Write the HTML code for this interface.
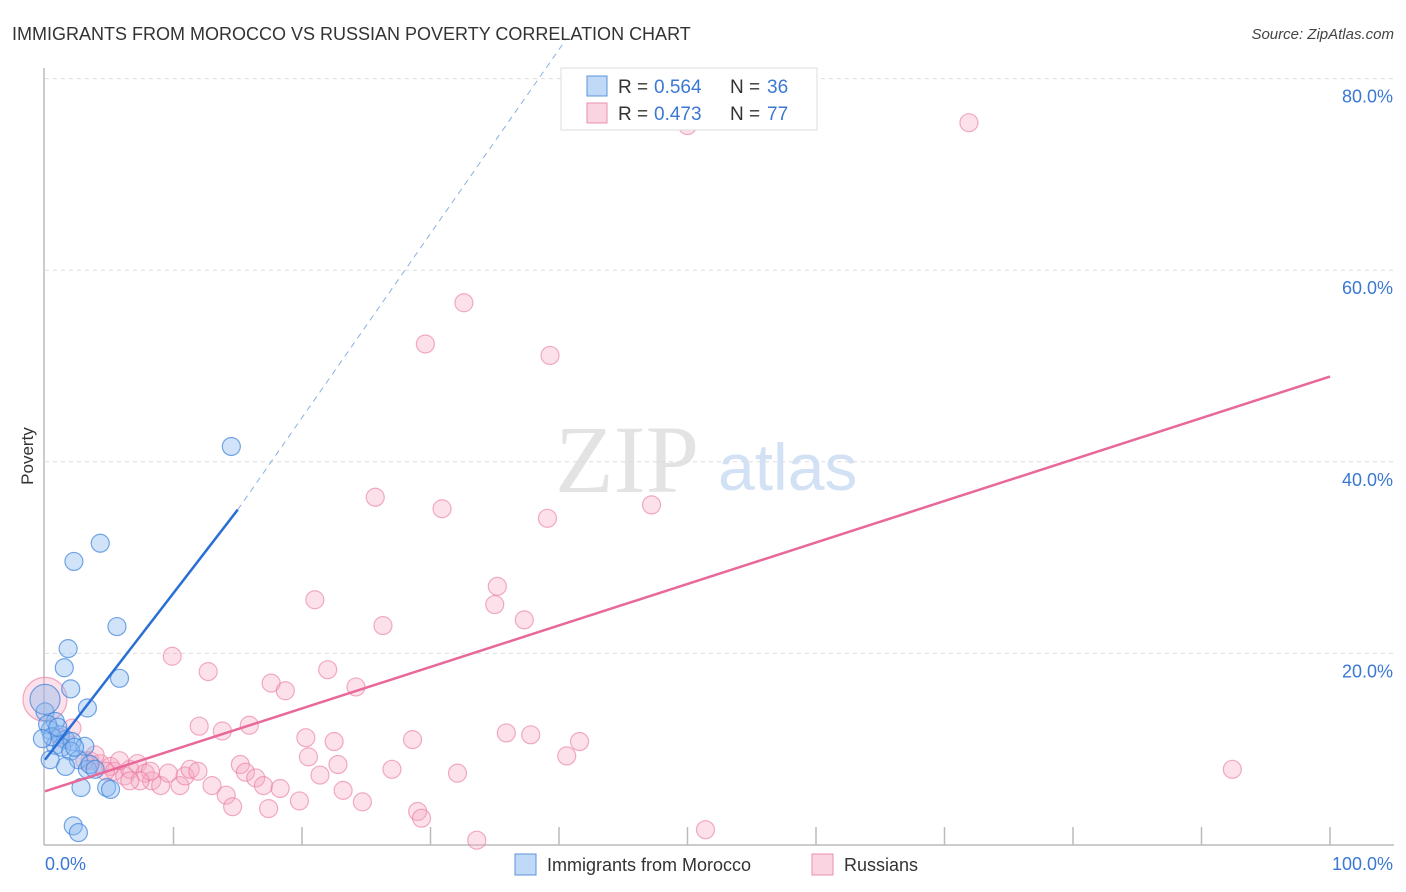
<!DOCTYPE html>
<html><head><meta charset="utf-8"><style>
body{margin:0;background:#fff;font-family:"Liberation Sans",sans-serif}
#c{position:absolute;left:0;top:0}
</style></head><body>
<svg id="c" width="1406" height="892"></svg>
<script>
const blueX=[14.5,4.3,2.25,5.6,1.8,1.5,2,5.8,3.3,0,0.8,0.4,1.2,1.6,0.8,2.1,3.1,1.3,2,2.6,1.6,3.3,2.8,4.8,5.1,2.2,2.6,0,0.2,0.55,1,2.3,3.5,3.9,-0.2,0.4];
const blueY=[41.6,31.5,29.6,22.8,20.5,18.5,16.3,17.4,14.3,13.9,12.9,12,11.5,11,10.4,10.8,10.3,10.2,9.8,8.9,8.2,7.9,6,6,5.8,2,1.3,15.2,12.6,11.3,12.3,10.2,8.4,7.9,11.1,8.9];
const blueR=[9,9,9,9,9,9,9,9,9,9,9,9,9,9,9,9,9,9,9,9,9,9,9,9,9,9,9,15,9,9,9,9,9,9,9,9];
const pinkX=[71.9,50,32.6,29.6,39.3,25.7,30.9,47.2,39.1,35.2,35,21,26.3,37.3,9.9,22,12.7,17.6,18.7,24.2,12,15.9,13.8,20.3,22.5,28.6,35.9,37.8,41.6,20.5,40.6,2.1,1.2,0,3.5,4.3,5.1,5.4,6.2,6.6,7.2,7.8,8.3,9,9.6,10.5,10.9,11.3,11.9,13,14.1,14.6,15.2,15.6,16.4,17,17.4,18.3,19.8,21.4,22.8,23.2,24.7,27,29,29.3,32.1,33.6,51.4,92.4,5.8,3.1,3.9,8.2,7.4,4.7,6.6];
const pinkY=[75.4,75.1,56.6,52.3,51.1,36.3,35.1,35.5,34.1,27,25.1,25.6,22.9,23.5,19.7,18.3,18.1,16.9,16.1,16.5,12.4,12.5,11.9,11.2,10.8,11,11.7,11.5,10.8,9.2,9.3,12.2,11.2,15.2,8.8,8.5,8.2,7.7,7.2,7.9,8.5,7.5,6.7,6.2,7.5,6.2,7.2,7.9,7.7,6.2,5.2,4,8.4,7.6,7,6.2,3.8,5.9,4.6,7.3,8.4,5.7,4.5,7.9,3.5,2.8,7.5,0.5,1.6,7.9,8.8,8.8,9.4,7.7,6.7,7.7,6.7];
const pinkR=pinkX.map((v,i)=>i==33?22:9);
const xTicks=[0,100];
const yTicks=[20,40,60,80];
const blueLine=[0,8.9,15,35];
const blueDash=[15,35,40.5,84];
const pinkLine=[0,5.6,100,48.9];
const X=v=>45+v*12.85, Y=v=>845-v*9.58;
const s=document.getElementById('c');const NS='http://www.w3.org/2000/svg';
function el(t,a,txt){const e=document.createElementNS(NS,t);for(const k in a)e.setAttribute(k,a[k]);if(txt!=null)e.textContent=txt;s.appendChild(e);return e;}
let e;
e=el('text',{x:12,y:40,'font-size':18,fill:'#333'},'IMMIGRANTS FROM MOROCCO VS RUSSIAN POVERTY CORRELATION CHART');

e=el('text',{x:1394,y:39,'font-size':15,fill:'#444','text-anchor':'end','font-style':'italic'},'Source: ZipAtlas.com');

yTicks.forEach(t=>{e=el('line',{x1:45,x2:1394,y1:Y(t),y2:Y(t),stroke:'#ddd','stroke-dasharray':'4,4'});

e=el('text',{x:1393,y:Y(t)+24,'font-size':18,fill:'#3a78d4','text-anchor':'end'},t.toFixed(1)+'%');
});
e=el('line',{x1:44,x2:44,y1:68,y2:845,stroke:'#bbb','stroke-width':1.5});

e=el('line',{x1:44,x2:1394,y1:845,y2:845,stroke:'#bbb','stroke-width':1.5});

for(let i=1;i<=10;i++){e=el('line',{x1:X(i*10),x2:X(i*10),y1:827,y2:845,stroke:'#bbb','stroke-width':1.5});
}
xTicks.forEach(t=>{e=el('text',{x:t==0?45:1393,y:870,'font-size':18,fill:'#3a78d4','text-anchor':t==0?'start':'end'},t.toFixed(1)+'%');
});
e=el('text',{x:33,y:456,'font-size':17,fill:'#333','text-anchor':'middle',transform:'rotate(-90 33 456)'},'Poverty');

e=el('text',{x:555,y:492,'font-size':96,fill:'#ddd','font-family':'Liberation Serif',opacity:0.8},'ZIP');

e=el('text',{x:718,y:490,'font-size':66,fill:'#c9daf3',opacity:0.8},'atlas');

pinkX.forEach((v,i)=>{e=el('circle',{cx:X(v),cy:Y(pinkY[i]),r:pinkR[i],fill:'rgba(246,170,195,0.35)',stroke:'rgba(232,120,160,0.6)','stroke-width':1.2});
});
blueX.forEach((v,i)=>{e=el('circle',{cx:X(v),cy:Y(blueY[i]),r:blueR[i],fill:'rgba(140,185,240,0.4)',stroke:'rgba(60,130,220,0.7)','stroke-width':1.2});
});
e=el('line',{x1:X(pinkLine[0]),y1:Y(pinkLine[1]),x2:X(pinkLine[2]),y2:Y(pinkLine[3]),stroke:'#e8689a','stroke-width':2.5});

e=el('line',{x1:X(blueDash[0]),y1:Y(blueDash[1]),x2:X(blueDash[2]),y2:Y(blueDash[3]),stroke:'#8ab0e0','stroke-width':1,'stroke-dasharray':'6,5'});

e=el('line',{x1:X(blueLine[0]),y1:Y(blueLine[1]),x2:X(blueLine[2]),y2:Y(blueLine[3]),stroke:'#2a6fd6','stroke-width':2.5});

e=el('rect',{x:561,y:68,width:256,height:62,fill:'#fff',stroke:'#ddd'});

[['rgba(140,185,240,0.55)','#5a95dd','0.564','36',86],['rgba(246,170,195,0.5)','#e890b0','0.473','77',113]].forEach(r=>{
e=el('rect',{x:587,y:r[4]-10,width:20,height:20,fill:r[0],stroke:r[1]});

e=el('text',{x:618,y:r[4]+7,'font-size':19,fill:'#333'},'R = ');

e=el('text',{x:654,y:r[4]+7,'font-size':19,fill:'#3a78d4'},r[2]);

e=el('text',{x:730,y:r[4]+7,'font-size':19,fill:'#333'},'N = ');

e=el('text',{x:767,y:r[4]+7,'font-size':19,fill:'#3a78d4'},r[3]);
});
[[515,'rgba(140,185,240,0.55)','#5a95dd','Immigrants from Morocco'],[812,'rgba(246,170,195,0.5)','#e890b0','Russians']].forEach(r=>{
e=el('rect',{x:r[0],y:854,width:21,height:21,fill:r[1],stroke:r[2]});

e=el('text',{x:r[0]+32,y:871,'font-size':18,fill:'#333'},r[3]);
});
</script>
</body></html>
